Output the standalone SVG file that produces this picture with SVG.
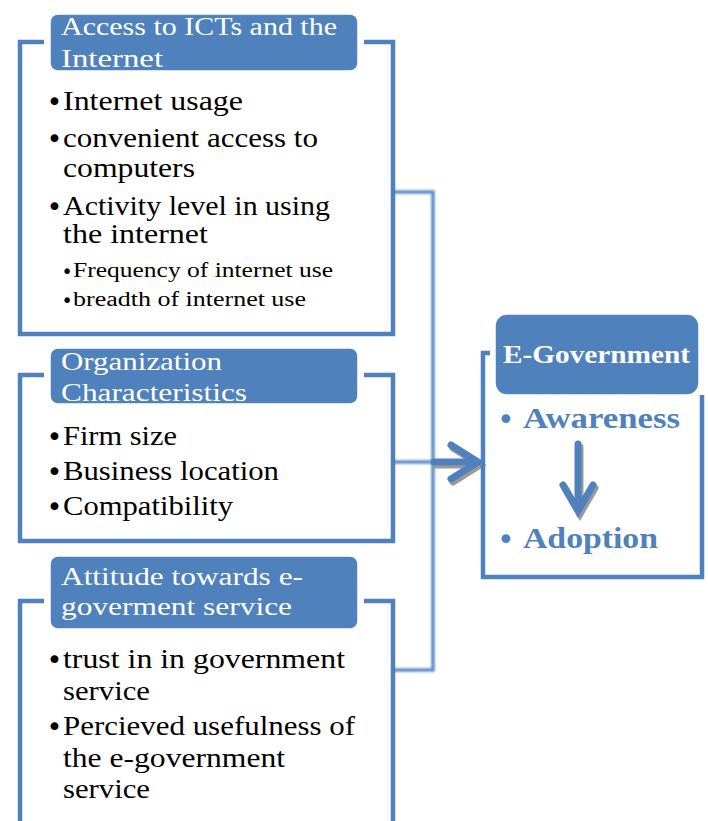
<svg xmlns="http://www.w3.org/2000/svg" width="708" height="821" viewBox="0 0 708 821">
  <defs>
    <style>
      .frame { fill: none; stroke: #4F81BD; stroke-width: 4.5; stroke-linejoin: miter; }
      .head { fill: #4F81BD; stroke: #ffffff; stroke-width: 1.5; }
      .htxt { font-family: "Liberation Serif", "Times New Roman", serif; font-size: 25px; fill: #ffffff; }
      .btxt { font-family: "Liberation Serif", "Times New Roman", serif; font-size: 27px; fill: #000000; }
      .stxt { font-family: "Liberation Serif", "Times New Roman", serif; font-size: 20px; fill: #000000; }
      .bul { font-family: "DejaVu Sans", sans-serif; font-size: 27px; }
      .sbul { font-family: "DejaVu Sans", sans-serif; font-size: 19px; }
      .etxt { font-family: "Liberation Serif", "Times New Roman", serif; font-weight: bold; fill: #4F81BD; font-size: 30px; }
      .ebul { font-family: "DejaVu Sans", sans-serif; font-weight: normal; }
      .conn { fill: none; stroke: #5b8ac6; stroke-width: 3.5; }
      .arrow { fill: none; stroke: #4F81BD; stroke-width: 7; stroke-linecap: round; }
      .shadow { fill: none; stroke: #9a9a9a; stroke-width: 7; stroke-linecap: round; }
    </style>
    <filter id="soft" x="-10%" y="-10%" width="120%" height="120%">
      <feGaussianBlur stdDeviation="0.9"/>
    </filter>
  </defs>

  <rect width="708" height="821" fill="#ffffff"/>

  <!-- connectors joining the three factor groups to E-Government -->
  <g id="connectors">
    <g filter="url(#soft)">
      <path class="conn" d="M393,192 H433 V670 H393"/>
      <path class="conn" d="M393,462 H433"/>
    </g>
    <!-- main arrow into E-Government -->
    <g transform="translate(2,3)">
      <path class="shadow" d="M434,462 H474"/>
      <path class="shadow" d="M451,445 L478,462 L451,479" stroke-linejoin="miter"/>
    </g>
    <path class="arrow" d="M434,462 H474"/>
    <path class="arrow" d="M451,445 L478,462 L451,479" stroke-linejoin="miter"/>
  </g>

  <!-- group 1 -->
  <g id="access-icts">
    <path class="frame" d="M44,42 H20 V334 H393 V42 H364"/>
    <rect class="head" x="50" y="14" width="308" height="57" rx="8"/>
    <text class="htxt" x="61" y="35" textLength="276" lengthAdjust="spacingAndGlyphs">Access to ICTs and the</text>
    <text class="htxt" x="61" y="67" textLength="102" lengthAdjust="spacingAndGlyphs">Internet</text>
    <text class="btxt" x="46.5" y="110"><tspan class="bul" dy="1">•</tspan><tspan x="63" dy="-1" textLength="180" lengthAdjust="spacingAndGlyphs">Internet usage</tspan></text>
    <text class="btxt" x="46.5" y="147"><tspan class="bul" dy="1">•</tspan><tspan x="63" dy="-1" textLength="255" lengthAdjust="spacingAndGlyphs">convenient access to</tspan></text>
    <text class="btxt" x="63" y="177" textLength="132" lengthAdjust="spacingAndGlyphs">computers</text>
    <text class="btxt" x="46.5" y="215"><tspan class="bul" dy="1">•</tspan><tspan x="63" dy="-1" textLength="267" lengthAdjust="spacingAndGlyphs">Activity level in using</tspan></text>
    <text class="btxt" x="63" y="243" textLength="145" lengthAdjust="spacingAndGlyphs">the internet</text>
    <text class="stxt" x="61.5" y="277"><tspan class="sbul" dy="1">•</tspan><tspan x="73" dy="-1" textLength="260" lengthAdjust="spacingAndGlyphs">Frequency of internet use</tspan></text>
    <text class="stxt" x="61.5" y="306"><tspan class="sbul" dy="1">•</tspan><tspan x="73" dy="-1" textLength="233" lengthAdjust="spacingAndGlyphs">breadth of internet use</tspan></text>
  </g>

  <!-- group 2 -->
  <g id="organization">
    <path class="frame" d="M44,375 H20 V541 H393 V375 H364"/>
    <rect class="head" x="50" y="348" width="308" height="56" rx="8"/>
    <text class="htxt" x="61" y="370" textLength="161" lengthAdjust="spacingAndGlyphs">Organization</text>
    <text class="htxt" x="61" y="401" textLength="186" lengthAdjust="spacingAndGlyphs">Characteristics</text>
    <text class="btxt" x="46.5" y="445"><tspan class="bul" dy="1">•</tspan><tspan x="63" dy="-1" textLength="114" lengthAdjust="spacingAndGlyphs">Firm size</tspan></text>
    <text class="btxt" x="46.5" y="480"><tspan class="bul" dy="1">•</tspan><tspan x="63" dy="-1" textLength="216" lengthAdjust="spacingAndGlyphs">Business location</tspan></text>
    <text class="btxt" x="46.5" y="515"><tspan class="bul" dy="1">•</tspan><tspan x="63" dy="-1" textLength="170" lengthAdjust="spacingAndGlyphs">Compatibility</tspan></text>
  </g>

  <!-- group 3 -->
  <g id="attitude">
    <path class="frame" d="M44,601 H20 V830 M393,830 V601 H364"/>
    <rect class="head" x="50" y="556" width="308" height="73" rx="8"/>
    <text class="htxt" x="61" y="585" textLength="242" lengthAdjust="spacingAndGlyphs">Attitude towards e-</text>
    <text class="htxt" x="61" y="615" textLength="231" lengthAdjust="spacingAndGlyphs">goverment service</text>
    <text class="btxt" x="46.5" y="668"><tspan class="bul" dy="1">•</tspan><tspan x="63" dy="-1" textLength="282" lengthAdjust="spacingAndGlyphs">trust in in government</tspan></text>
    <text class="btxt" x="63" y="700" textLength="87" lengthAdjust="spacingAndGlyphs">service</text>
    <text class="btxt" x="46.5" y="735"><tspan class="bul" dy="1">•</tspan><tspan x="63" dy="-1" textLength="292" lengthAdjust="spacingAndGlyphs">Percieved usefulness of</tspan></text>
    <text class="btxt" x="63" y="767" textLength="222" lengthAdjust="spacingAndGlyphs">the e-government</text>
    <text class="btxt" x="63" y="798" textLength="87" lengthAdjust="spacingAndGlyphs">service</text>
  </g>

  <!-- outcome -->
  <g id="e-government">
    <path class="frame" d="M490,353 H483 V577 H702 V395"/>
    <rect class="head" x="495" y="314" width="204" height="81" rx="12" stroke-width="2"/>
    <text x="503" y="363" font-family="'Liberation Serif', 'Times New Roman', serif" font-weight="bold" font-size="25" fill="#ffffff" textLength="187" lengthAdjust="spacingAndGlyphs">E-Government</text>
    <text class="etxt" x="497" y="428"><tspan class="ebul" dy="2">•</tspan><tspan x="523" dy="-2" textLength="157" lengthAdjust="spacingAndGlyphs">Awareness</tspan></text>
    <text class="etxt" x="497" y="548"><tspan class="ebul" dy="2">•</tspan><tspan x="523" dy="-2" textLength="135" lengthAdjust="spacingAndGlyphs">Adoption</tspan></text>
    <!-- awareness leads to adoption -->
    <g transform="translate(2,3)">
      <path class="shadow" d="M578,444 V508"/>
      <path class="shadow" d="M563,485 L578,511 L593,485" stroke-linejoin="miter"/>
    </g>
    <path class="arrow" d="M578,444 V508"/>
    <path class="arrow" d="M563,485 L578,511 L593,485" stroke-linejoin="miter"/>
  </g>
</svg>
